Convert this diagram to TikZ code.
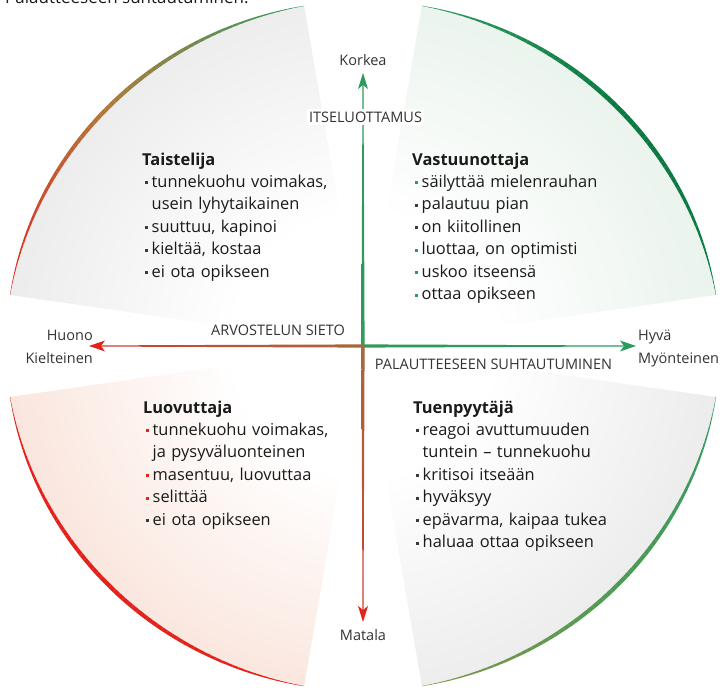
\documentclass[tikz,border=0pt]{standalone}
\usepackage{fontspec}
\setmainfont{Open Sans}
\usetikzlibrary{calc}

% palette
\definecolor{txtc}{HTML}{1A1A1A}
\definecolor{lblc}{HTML}{333333}
\definecolor{bulletgray}{HTML}{3A3A3A}
\definecolor{bulletgreen}{HTML}{2E9A60}
\definecolor{bulletred}{HTML}{E3231B}
\definecolor{qgray}{HTML}{CECECE}
\definecolor{qgreen}{HTML}{C8E0CF}
\definecolor{qsalmon}{HTML}{F2BDA7}
\definecolor{redc}{HTML}{E3231B}
\definecolor{brownc}{HTML}{B07A3C}
\definecolor{greenc}{HTML}{2E9A60}
\definecolor{darkgreenc}{HTML}{0B7A40}
\definecolor{olivec}{HTML}{7F9448}
\definecolor{brgreenc}{HTML}{4E9A55}
\definecolor{axgreen}{HTML}{2B9A5C}
\definecolor{axmidg}{HTML}{5A9A50}
\definecolor{axolive}{HTML}{8C8A3E}
\definecolor{axmidr}{HTML}{A0703C}
\definecolor{axbrown}{HTML}{C0503A}
\definecolor{axred}{HTML}{E3231B}

% quadrant fills: white at the centre, tinted towards the rim
\pgfdeclareradialshading{fangray}{\pgfpoint{0bp}{0bp}}{color(0bp)=(white); color(9bp)=(white); color(50bp)=(qgray); color(72bp)=(qgray)}
\pgfdeclareradialshading{fangreen}{\pgfpoint{0bp}{0bp}}{color(0bp)=(white); color(9bp)=(white); color(50bp)=(qgreen); color(72bp)=(qgreen)}
\pgfdeclareradialshading{fansalmon}{\pgfpoint{0bp}{0bp}}{color(0bp)=(white); color(9bp)=(white); color(50bp)=(qsalmon); color(72bp)=(qsalmon)}

% axis shafts
\pgfdeclarehorizontalshading{eastaxis}{100bp}{color(0bp)=(axolive); color(10bp)=(axmidg); color(32bp)=(axgreen); color(100bp)=(axgreen)}
\pgfdeclarehorizontalshading{westaxis}{100bp}{color(0bp)=(axred); color(45bp)=(axbrown); color(85bp)=(axmidr); color(100bp)=(axolive)}
\pgfdeclareverticalshading{northaxis}{100bp}{color(0bp)=(axolive); color(10bp)=(axmidg); color(32bp)=(axgreen); color(100bp)=(axgreen)}
\pgfdeclareverticalshading{southaxis}{100bp}{color(0bp)=(axred); color(45bp)=(axbrown); color(85bp)=(axmidr); color(100bp)=(axolive)}

% a quadrant: wedge from the centre to the rim
\newcommand\fan[3]{%
  \begin{scope}
    \clip (O) -- ++(#1:357pt and 345pt)
      arc[start angle=#1, end angle=#2, x radius=357pt, y radius=345pt] -- cycle;
    \shade[shading=#3] (O) circle[radius=360pt];
  \end{scope}}

% a brush stroke along the rim: #1 -> #2 angles, colours #3 #4 #5, peak width #6
\newcommand\brush[6]{%
  \foreach \i in {0,...,71}{%
    \pgfmathsetmacro\tpos{(\i+0.5)/72}%
    \pgfmathsetmacro\angA{#1+(#2-#1)*\i/72}%
    \pgfmathsetmacro\angB{#1+(#2-#1)*(\i+1)/72}%
    \pgfmathsetmacro\lw{0.2+#6*sin(180*\tpos)}%
    \pgfmathsetmacro\radx{357-\lw/2}%
    \pgfmathsetmacro\rady{345-\lw/2}%
    \pgfmathtruncatemacro\pcnt{(\tpos<0.5) ? (100-200*\tpos) : (200-200*\tpos)}%
    \ifdim\tpos pt<0.5pt \def\mixc{#3!\pcnt!#4}\else\def\mixc{#4!\pcnt!#5}\fi
    \draw[line width=\lw pt, draw=\mixc] (O) ++(\angA:\radx pt and \rady pt)
      arc[start angle=\angA, end angle=\angB, x radius=\radx pt, y radius=\rady pt];
  }}

% list helpers
\newcommand\qhead[1]{\noindent\textbf{#1}\par\vspace{-1.2pt}}
\newcommand\qitem[2][bulletgray]{\par\noindent\hangindent=9.5pt\hangafter=1%
  \makebox[9.5pt][l]{\hspace{3pt}\textcolor{#1}{\rule[3.2pt]{2.6pt}{2.6pt}}}#2}

\tikzset{
  qtext/.style={inner sep=0pt, text width=260pt, align=left, text=txtc,
    font=\fontsize{16.4}{22.5}\selectfont},
  lbl/.style={inner sep=0pt, text=lblc, font=\fontsize{14.5}{17}\selectfont},
}

\begin{document}
\begin{tikzpicture}[x=1pt, y=1pt]
\useasboundingbox (0,0) rectangle (726,696);

\coordinate (O) at (363,350);
\coordinate (Ntip) at (363,623);
\coordinate (Stip) at (363,74);
\coordinate (Wtip) at (89,350);
\coordinate (Etip) at (636,350);

% heading, cut by the top edge
\node[anchor=base west, inner sep=0pt, text=txtc, font=\fontsize{17}{20}\selectfont]
  (heading) at (5,692) {Palautteeseen suhtautuminen.};

% quadrants
\fan{99.5}{171.5}{fangray}
\fan{8.5}{80.5}{fangreen}
\fan{-80.5}{-8.5}{fangray}
\fan{-171.5}{-99.5}{fansalmon}

% rims
\brush{171.5}{99.5}{redc}{brownc}{greenc}{4}
\brush{80.5}{8.5}{greenc}{darkgreenc}{darkgreenc}{4.6}
\brush{-8.5}{-80.5}{greenc}{brgreenc}{olivec}{4}
\brush{-99.5}{-171.5}{redc}{redc}{redc}{4}

% axis shafts
\shade[shading=eastaxis] ([yshift=1.6pt]O) -- ([shift={(-12,0.5)}]Etip)
  -- ([shift={(-12,-0.5)}]Etip) -- ([yshift=-1.6pt]O) -- cycle;
\shade[shading=westaxis] ([yshift=1.6pt]O) -- ([shift={(12,0.6)}]Wtip)
  -- ([shift={(12,-0.6)}]Wtip) -- ([yshift=-1.6pt]O) -- cycle;
\shade[shading=northaxis] ([xshift=-1.6pt]O) -- ([shift={(-0.5,-12)}]Ntip)
  -- ([shift={(0.5,-12)}]Ntip) -- ([xshift=1.6pt]O) -- cycle;
\shade[shading=southaxis] ([xshift=-1.6pt]O) -- ([shift={(-0.5,12)}]Stip)
  -- ([shift={(0.5,12)}]Stip) -- ([xshift=1.6pt]O) -- cycle;

% arrowheads
\fill[axgreen] (Etip) -- ++(-16,5.5) -- ++(4,-5.5) -- ++(-4,-5.5) -- cycle;
\fill[axred] (Wtip) -- ++(16,5.5) -- ++(-4,-5.5) -- ++(4,-5.5) -- cycle;
\fill[axgreen] (Ntip) -- ++(-5,-16) -- ++(5,4) -- ++(5,-4) -- cycle;
\fill[axred] (Stip) -- ++(-5,16) -- ++(5,-4) -- ++(5,4) -- cycle;

% axis labels
\node[lbl, anchor=base] (korkea) at (363,630.5) {Korkea};
\node[lbl, anchor=base, fill=white, inner sep=2.5pt] (itse) at (365.5,573.7) {ITSELUOTTAMUS};
\node[lbl, anchor=base] (matala) at (363,55) {Matala};
\node[lbl, anchor=base east] (huono) at (93,355.5) {Huono};
\node[lbl, anchor=base east] (kiel) at (93,332) {Kielteinen};
\node[lbl, anchor=base west] (hyva) at (638,355.5) {Hyvä};
\node[lbl, anchor=base west] (myon) at (638,332) {Myönteinen};
\node[lbl, anchor=base] (arvo) at (278,360.5) {ARVOSTELUN SIETO};
\node[lbl, anchor=base] (pala) at (493.5,326) {PALAUTTEESEEN SUHTAUTUMINEN};

% quadrant texts
\node[qtext, anchor=base west] (taist) at (142,530) {%
  \qhead{Taistelija}%
  \qitem{tunnekuohu voimakas,\newline usein lyhytaikainen}%
  \qitem{suuttuu, kapinoi}%
  \qitem{kieltää, kostaa}%
  \qitem{ei ota opikseen}};

\node[qtext, anchor=base west] (vast) at (412,530) {%
  \qhead{Vastuunottaja}%
  \qitem[bulletgreen]{säilyttää mielenrauhan}%
  \qitem{palautuu pian}%
  \qitem{on kiitollinen}%
  \qitem[bulletgreen]{luottaa, on optimisti}%
  \qitem[bulletgreen]{uskoo itseensä}%
  \qitem[bulletgreen]{ottaa opikseen}};

\node[qtext, anchor=base west] (luov) at (143,282) {%
  \qhead{Luovuttaja}%
  \qitem[bulletred]{tunnekuohu voimakas,\newline ja pysyväluonteinen}%
  \qitem[bulletred]{masentuu, luovuttaa}%
  \qitem[bulletred]{selittää}%
  \qitem{ei ota opikseen}};

\node[qtext, anchor=base west] (tuen) at (413,282) {%
  \qhead{Tuenpyytäjä}%
  \qitem{reagoi avuttumuuden\newline tuntein – tunnekuohu}%
  \qitem{kritisoi itseään}%
  \qitem{hyväksyy}%
  \qitem{epävarma, kaipaa tukea}%
  \qitem{haluaa ottaa opikseen}};
\end{tikzpicture}
\end{document}
